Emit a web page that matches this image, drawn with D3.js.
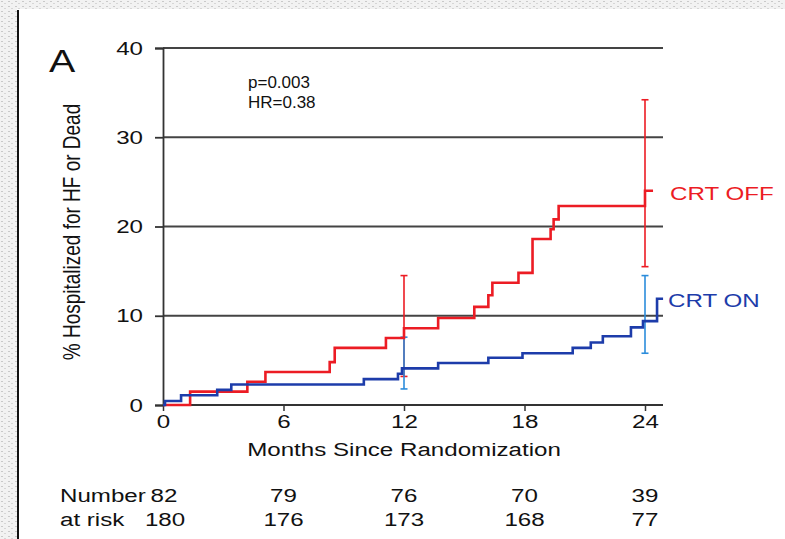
<!DOCTYPE html>
<html>
<head>
<meta charset="utf-8">
<script src="https://cdn.jsdelivr.net/npm/d3@7"></script>
<style>
  body { margin: 0; background: #fff; }
  svg text { font-family: "Liberation Sans", Arial, sans-serif; fill: #111; }
</style>
</head>
<body>
<div id="km"></div>
<script>
// months on the x axis
var monthTicks = [0, 6, 12, 18, 24];
var pctTicks = [0, 10, 20, 30, 40];

// CRT OFF step curve (month the step happens, % after step)
var offTimes  = [0, 1.35, 4.2, 5.1, 8.3, 8.55, 11.1, 12.0, 13.7, 15.5, 16.2, 16.4, 17.7, 18.4, 19.3, 19.45, 19.7, 24.0, 24.4];
var offValues = [0, 1.5, 2.6, 3.7, 4.8, 6.4, 7.5, 8.6, 9.75, 11.0, 12.3, 13.7, 14.8, 18.6, 19.7, 20.8, 22.3, 24.0, 24.0];

// CRT ON step curve
var onTimes  = [0, 0.1, 0.9, 2.7, 3.4, 10.0, 11.7, 11.9, 13.7, 16.2, 17.9, 20.4, 21.3, 21.9, 23.3, 23.9, 24.6, 24.9];
var onValues = [0, 0.45, 1.1, 1.7, 2.3, 2.9, 3.5, 4.1, 4.7, 5.3, 5.8, 6.4, 7.0, 7.7, 8.7, 9.4, 11.9, 11.9];

// confidence bars
var errMonths = [12, 24];
var offLow  = [3.2, 15.5];
var offHigh = [14.5, 34.2];
var onLow   = [1.8, 5.8];
var onHigh  = [7.6, 14.5];

// numbers at risk
var riskOff = [82, 79, 76, 70, 39];
var riskOn  = [180, 176, 173, 168, 77];

var red = '#ec1c24';
var blue = '#1d3caa';
var lightBlue = '#2b8cdb';
var sx = 1.27; // the source figure is stretched sideways, text too

var width = 785, height = 539;
var svg = d3.select('#km').append('svg')
  .attr('width', width)
  .attr('height', height);

// textured frame on left and top
var defs = svg.append('defs');
var pat = defs.append('pattern')
  .attr('id', 'grain')
  .attr('width', 7).attr('height', 5)
  .attr('patternUnits', 'userSpaceOnUse');
pat.append('rect').attr('width', 7).attr('height', 5).attr('fill', '#f2f2f2');
pat.append('rect').attr('x', 1).attr('y', 1).attr('width', 2).attr('height', 1).attr('fill', '#c9c9c9');
pat.append('rect').attr('x', 4).attr('y', 3).attr('width', 2).attr('height', 1).attr('fill', '#d6d6d6');

svg.append('rect').attr('x', 0).attr('y', 0).attr('width', width).attr('height', 9).attr('fill', 'url(#grain)');
svg.append('rect').attr('x', 0).attr('y', 0).attr('width', 17).attr('height', height).attr('fill', 'url(#grain)');
svg.append('line')
  .attr('x1', 18).attr('x2', 18).attr('y1', 10).attr('y2', height)
  .attr('stroke', '#111').attr('stroke-width', 2);

// helper: wide text placed at x,y
function label(px, py, txt, size, anchor, color) {
  return svg.append('text')
    .attr('transform', `translate(${px},${py}) scale(${sx},1)`)
    .attr('text-anchor', anchor || 'start')
    .attr('font-size', size)
    .style('fill', color || '#111')
    .text(txt);
}

var x = d3.scaleLinear().domain([0, 24]).range([163, 645]);
var y = d3.scaleLinear().domain([0, 40]).range([405, 48]);

// gridlines
svg.append('g')
  .selectAll('line')
  .data(pctTicks.filter(d => d > 0))
  .enter().append('line')
  .attr('x1', 163).attr('x2', 663)
  .attr('y1', d => y(d)).attr('y2', d => y(d))
  .attr('stroke', '#444').attr('stroke-width', 1.8);

// y axis
var yAxis = d3.axisLeft(y).tickValues(pctTicks).tickSize(8).tickPadding(6);
var gy = svg.append('g').attr('transform', 'translate(163,0)').call(yAxis);
gy.select('.domain').attr('stroke', '#333').attr('stroke-width', 1.8);
gy.selectAll('.tick line').attr('stroke', '#333').attr('stroke-width', 1.8);
gy.selectAll('.tick text')
  .attr('font-size', 19).attr('fill', '#111')
  .attr('x', -20 / sx)
  .attr('transform', `scale(${sx},1)`);

// x axis
var xAxis = d3.axisBottom(x).tickValues(monthTicks).tickSize(6).tickSizeOuter(0).tickPadding(4);
var gx = svg.append('g').attr('transform', 'translate(0,405)').call(xAxis);
gx.select('.domain').attr('d', 'M163,0H663').attr('stroke', '#333').attr('stroke-width', 1.8);
gx.selectAll('.tick line').attr('stroke', '#333').attr('stroke-width', 1.5);
gx.selectAll('.tick text')
  .attr('font-size', 19).attr('fill', '#111')
  .attr('transform', `scale(${sx},1)`);

// axis titles
label(404, 456, 'Months Since Randomization', 19, 'middle');

svg.append('text')
  .attr('transform', `translate(80,232) rotate(-90) scale(1,${sx})`)
  .attr('text-anchor', 'middle')
  .attr('font-size', 19)
  .text('% Hospitalized for HF or Dead');

label(49, 72, 'A', 31);

svg.append('text').attr('x', 248).attr('y', 88).attr('font-size', 17).text('p=0.003');
svg.append('text').attr('x', 248).attr('y', 108).attr('font-size', 17).text('HR=0.38');

// error bars (drawn under the curves)
function errBars(lo, hi, color) {
  var g = svg.append('g').attr('stroke', color).attr('stroke-width', 1.6);
  g.selectAll('.v').data(errMonths).enter().append('line')
    .attr('x1', d => x(d)).attr('x2', d => x(d))
    .attr('y1', (d, i) => y(lo[i])).attr('y2', (d, i) => y(hi[i]));
  g.selectAll('.lo').data(errMonths).enter().append('line')
    .attr('x1', d => x(d) - 3.5).attr('x2', d => x(d) + 3.5)
    .attr('y1', (d, i) => y(lo[i])).attr('y2', (d, i) => y(lo[i]));
  g.selectAll('.hi').data(errMonths).enter().append('line')
    .attr('x1', d => x(d) - 3.5).attr('x2', d => x(d) + 3.5)
    .attr('y1', (d, i) => y(hi[i])).attr('y2', (d, i) => y(hi[i]));
}
errBars(offLow, offHigh, red);
errBars(onLow, onHigh, lightBlue);

// step curves
var step = d3.line()
  .x(d => x(d[0]))
  .y(d => y(d[1]))
  .curve(d3.curveStepAfter);

svg.append('path')
  .datum(d3.zip(offTimes, offValues))
  .attr('d', step)
  .attr('fill', 'none')
  .attr('stroke', red)
  .attr('stroke-width', 2.6);

svg.append('path')
  .datum(d3.zip(onTimes, onValues))
  .attr('d', step)
  .attr('fill', 'none')
  .attr('stroke', blue)
  .attr('stroke-width', 2.6);

label(670, 200, 'CRT OFF', 19, 'start', red);
label(668, 307, 'CRT ON', 19, 'start', blue);

// numbers at risk
label(60, 502, 'Number', 19);
label(60, 526, 'at risk', 19);

riskOff.forEach((d, i) => label(x(monthTicks[i]) + (i === 0 ? 1 : 0), 502, d, 19, 'middle'));
riskOn.forEach((d, i) => label(x(monthTicks[i]) + (i === 0 ? 2 : 0), 526, d, 19, 'middle'));
</script>
</body>
</html>
